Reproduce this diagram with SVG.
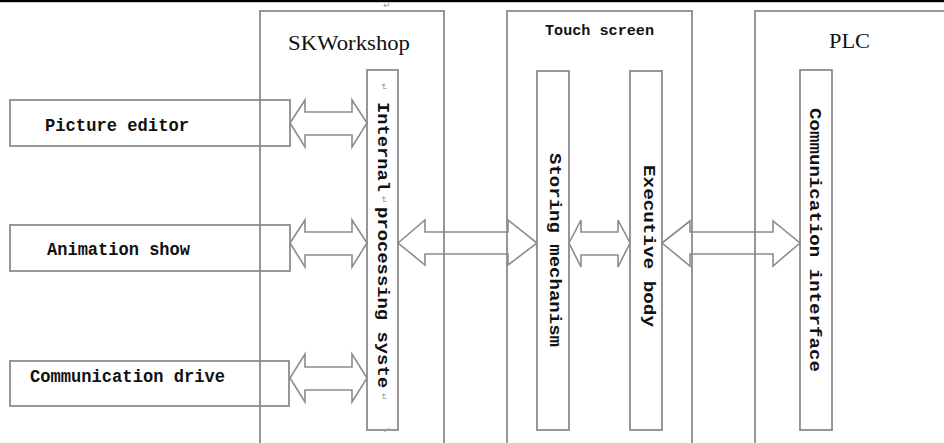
<svg xmlns="http://www.w3.org/2000/svg" width="944" height="443" viewBox="0 0 944 443">
  <style>
    .box { fill: none; stroke: #8c8c8c; stroke-width: 1.8; }
    .arrow { fill: none; stroke: #8c8c8c; stroke-width: 1.6; stroke-linejoin: miter; }
    .title { font-family: "Liberation Serif", serif; fill: #111; }
    .label { font-family: "Liberation Mono", monospace; font-weight: bold; fill: #111; }
    .mark { font-family: "DejaVu Sans", sans-serif; fill: #999; font-size: 9px; }
  </style>

  <rect x="0" y="0" width="944" height="443" fill="#fff"/>
  <!-- top rule -->
  <rect x="0" y="0" width="944" height="2.2" fill="#000"/>
  <text class="mark" x="383" y="8">↵</text>

  <!-- containers -->
  <g id="skworkshop">
    <rect class="box" x="260" y="11" width="184" height="450"/>
    <text class="title" x="288" y="50" font-size="20" textLength="122" lengthAdjust="spacingAndGlyphs">SKWorkshop</text>
  </g>
  <g id="touch-screen">
    <rect class="box" x="507" y="11" width="185" height="450"/>
    <text class="label" x="545" y="35" font-size="14" textLength="109" lengthAdjust="spacingAndGlyphs">Touch screen</text>
  </g>
  <g id="plc">
    <rect class="box" x="755" y="11" width="220" height="450"/>
    <text class="title" x="829" y="48" font-size="22" textLength="41" lengthAdjust="spacingAndGlyphs">PLC</text>
  </g>

  <!-- left modules -->
  <g id="picture-editor">
    <rect class="box" x="10" y="100" width="280" height="46"/>
    <text class="label" x="45" y="131" font-size="18" textLength="144" lengthAdjust="spacingAndGlyphs">Picture editor</text>
  </g>
  <g id="animation-show">
    <rect class="box" x="10" y="225" width="280" height="46"/>
    <text class="label" x="47" y="255" font-size="18" textLength="143" lengthAdjust="spacingAndGlyphs">Animation show</text>
  </g>
  <g id="communication-drive">
    <rect class="box" x="10" y="361" width="279" height="45"/>
    <text class="label" x="30" y="382" font-size="18" textLength="195" lengthAdjust="spacingAndGlyphs">Communication drive</text>
  </g>

  <!-- vertical blocks -->
  <g id="internal-processing">
    <rect class="box" x="367" y="70" width="31" height="360"/>
    <text class="mark" transform="translate(381,83) rotate(90)">↵</text>
    <text class="label" font-size="16" transform="translate(378,102) rotate(90)" textLength="90" lengthAdjust="spacingAndGlyphs">Internal</text>
    <text class="mark" transform="translate(381,196) rotate(90)">↵</text>
    <text class="label" font-size="16" transform="translate(378,207) rotate(90)" textLength="181" lengthAdjust="spacingAndGlyphs">processing syste</text>
    <text class="mark" transform="translate(381,393) rotate(90)">↵</text>
    <text class="mark" x="383" y="433">↵</text>
  </g>
  <g id="storing-mechanism">
    <rect class="box" x="537" y="71" width="32" height="359"/>
    <text class="label" font-size="16" transform="translate(550,153) rotate(90)" textLength="194" lengthAdjust="spacingAndGlyphs">Storing mechanism</text>
  </g>
  <g id="executive-body">
    <rect class="box" x="630" y="71" width="32" height="359"/>
    <text class="label" font-size="16" transform="translate(644,165) rotate(90)" textLength="162" lengthAdjust="spacingAndGlyphs">Executive body</text>
  </g>
  <g id="communication-interface">
    <rect class="box" x="800" y="70" width="32" height="360"/>
    <text class="label" font-size="16" transform="translate(810,108) rotate(90)" textLength="264" lengthAdjust="spacingAndGlyphs">Communication interface</text>
  </g>

  <!-- double-headed hollow connectors -->
  <g id="connectors">
    <polygon class="arrow" points="290,123 305,100 305,112 352,112 352,100 367,123 352,147 352,135 305,135 305,147"/>
    <polygon class="arrow" points="290,243 305,220 305,232 352,232 352,220 367,243 352,267 352,255 305,255 305,267"/>
    <polygon class="arrow" points="290,378 305,354 305,367 352,367 352,354 367,378 352,402 352,390 305,390 305,402"/>
    <polygon class="arrow" points="398,243 425,220 425,232 508,232 508,220 537,243 508,265 508,254 425,254 425,265"/>
    <polygon class="arrow" points="569,243 581,220 581,232 618,232 618,220 630,243 618,267 618,255 581,255 581,267"/>
    <polygon class="arrow" points="662,243 690,221 690,232 773,232 773,221 800,243 773,266 773,254 690,254 690,266"/>
  </g>
</svg>
